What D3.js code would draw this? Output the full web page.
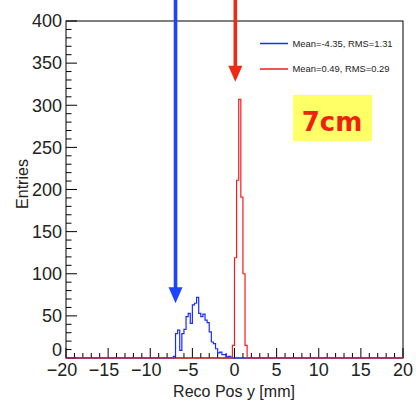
<!DOCTYPE html>
<html><head><meta charset="utf-8">
<script src="https://cdn.jsdelivr.net/npm/d3@7"></script>
<style>html,body{margin:0;padding:0;background:#fff;}svg{display:block;}</style>
</head><body>
<svg id="c" width="416" height="401"></svg>
<script>
// ---- data ----
const binWidth = 0.25;
const xDomain = [-20, 20];
const yDomain = [0, 400];
const xTicks = [-20, -15, -10, -5, 0, 5, 10, 15, 20];
const yTicks = [0, 50, 100, 150, 200, 250, 300, 350, 400];
const blueStart = -7.25;
const blueCounts = [2, 29, 33, 9, 29, 34, 49, 53, 41, 63, 65, 72, 53, 49, 52, 45, 42, 31, 19, 17, 11, 6, 7, 4, 4, 1, 2, 1];
const redStart = -0.25;
const redCounts = [15, 119, 211, 307, 191, 100, 15];
const legendLabels = ["Mean=-4.35, RMS=1.31", "Mean=0.49, RMS=0.29"];
const arrowX = [-7.0, 0.1];
const arrowTip = [65, 328];
const colors = ["#1a2cff", "#ff1a1a"];
const arrowColors = ["#1a44ff", "#ee2a14"];
const boxLabel = "7cm";

// ---- layout ----
const svg = d3.select("#c");
const L = 66, R = 403, T = 21, B = 358;
const x = d3.scaleLinear().domain(xDomain).range([L, R]);
const y = d3.scaleLinear().domain(yDomain).range([B, T]);

function fullHist(start, counts) {
  const n = Math.round((xDomain[1] - xDomain[0]) / binWidth);
  const arr = new Array(n).fill(0);
  const off = Math.round((start - xDomain[0]) / binWidth);
  counts.forEach((c, i) => { arr[off + i] = c; });
  const pts = [[xDomain[0], 0]];
  arr.forEach((c, i) => {
    const x0 = xDomain[0] + i * binWidth;
    pts.push([x0, c], [x0 + binWidth, c]);
  });
  pts.push([xDomain[1], 0]);
  return pts;
}
const line = d3.line().x(d => x(d[0])).y(d => y(d[1]));

// frame
svg.append("rect").attr("x", L).attr("y", T).attr("width", R - L).attr("height", B - T)
  .attr("fill", "none").attr("stroke", "#000").attr("stroke-width", 1);

// y axis ticks (inside)
const yMinor = d3.range(0, 401, 10);
svg.append("g").selectAll("line").data(yMinor).join("line")
  .attr("x1", L).attr("x2", d => L + (d % 50 === 0 ? 11 : 5.5))
  .attr("y1", d => y(d)).attr("y2", d => y(d)).attr("stroke", "#000").attr("stroke-width", 1);
// x axis ticks (inside)
const xMinor = d3.range(-20, 21, 1);
svg.append("g").selectAll("line").data(xMinor).join("line")
  .attr("x1", d => x(d)).attr("x2", d => x(d))
  .attr("y1", B).attr("y2", d => B - (d % 5 === 0 ? 10 : 5)).attr("stroke", "#000").attr("stroke-width", 1);

// tick labels
const font = "Liberation Sans, Arial, Helvetica, sans-serif";
svg.append("g").selectAll("text").data(yTicks).join("text")
  .attr("x", 62).attr("y", d => d === 0 ? y(d) - 8 : y(d))
  .attr("dy", "0.35em").attr("text-anchor", "end")
  .attr("font-family", font).attr("font-size", 18).attr("fill", "#222")
  .text(d => d);
svg.append("g").selectAll("text").data(xTicks).join("text")
  .attr("x", d => x(d) - (d < 0 ? 4 : 0)).attr("y", 370)
  .attr("dy", "0.35em").attr("text-anchor", "middle")
  .attr("font-family", font).attr("font-size", 18).attr("fill", "#222")
  .text(d => d < 0 ? "\u2212" + Math.abs(d) : d);

// axis titles
svg.append("text").attr("x", 234).attr("y", 391).attr("dy", "0.35em")
  .attr("text-anchor", "middle").attr("font-family", font).attr("font-size", 16).attr("fill", "#222")
  .text("Reco Pos y [mm]");
svg.append("text").attr("transform", "translate(22,184) rotate(-90)").attr("dy", "0.35em")
  .attr("text-anchor", "middle").attr("font-family", font).attr("font-size", 16).attr("fill", "#222")
  .text("Entries");

// histograms
svg.append("path").attr("d", line(fullHist(blueStart, blueCounts)))
  .attr("fill", "none").attr("stroke", colors[0]).attr("stroke-width", 1.2);
svg.append("path").attr("d", line(fullHist(redStart, redCounts)))
  .attr("fill", "none").attr("stroke", colors[1]).attr("stroke-width", 1.2);

// legend
legendLabels.forEach((t, i) => {
  const ly = 43.5 + i * 25.5;
  svg.append("line").attr("x1", 260).attr("x2", 288).attr("y1", ly).attr("y2", ly)
    .attr("stroke", colors[i]).attr("stroke-width", 1.5);
  svg.append("text").attr("x", 292.5).attr("y", ly).attr("dy", "0.35em")
    .attr("font-family", font).attr("font-size", 9.4).attr("fill", "#222").text(t);
});

// arrows
arrowX.forEach((v, i) => {
  const ax = x(v), tip = y(arrowTip[i]);
  svg.append("line").attr("x1", ax).attr("x2", ax).attr("y1", 0).attr("y2", tip - 14)
    .attr("stroke", arrowColors[i]).attr("stroke-width", 3.6);
  svg.append("path").attr("d", `M${ax - 7},${tip - 16}L${ax + 7},${tip - 16}L${ax},${tip}Z`)
    .attr("fill", arrowColors[i]);
});

// 7cm box
svg.append("rect").attr("x", 293).attr("y", 95).attr("width", 79).attr("height", 46).attr("fill", "#ffff66");
svg.append("text").attr("x", 332).attr("y", 131).attr("text-anchor", "middle")
  .attr("font-family", "DejaVu Sans, sans-serif").attr("font-weight", "bold").attr("font-size", 26)
  .attr("fill", "#ee2211").text(boxLabel);
</script>
</body></html>
